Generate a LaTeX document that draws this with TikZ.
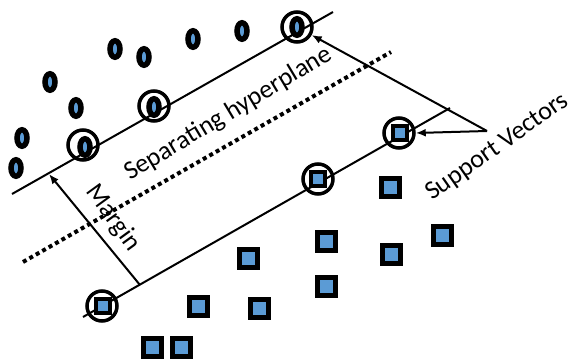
\documentclass[tikz,border=0pt]{standalone}
\usepackage{fontspec}
\setmainfont{Carlito}
\usetikzlibrary{arrows.meta,shapes.geometric}
\definecolor{ptblue}{RGB}{91,155,213}
\tikzset{
  oval/.style={ellipse,draw=black,fill=ptblue,line width=5.5pt,
    minimum width=10pt,minimum height=16.5pt,inner sep=0pt},
  sq/.style={rectangle,draw=black,fill=ptblue,line width=5pt,
    minimum size=18pt,inner sep=0pt},
  sqsmall/.style={rectangle,draw=black,fill=ptblue,line width=3.5pt,
    minimum size=14pt,inner sep=0pt},
  ring/.style={circle,draw=black,line width=3.5pt,minimum size=30pt,inner sep=0pt},
  marginline/.style={line width=2pt},
  hyper/.style={line width=4pt,dash pattern=on 4pt off 3.4pt},
  pointer/.style={line width=2pt,-{Latex[length=10pt,width=8pt]}},
  lbl/.style={font=\fontsize{26}{30}\selectfont,inner sep=0pt}
}
\begin{document}
\begin{tikzpicture}[x=1pt,y=-1pt]
\useasboundingbox (0,0) rectangle (574,362);

% margin boundaries and the separating hyperplane
\coordinate (ua) at (12,194);
\coordinate (ub) at (333,12);
\coordinate (la) at (83,317);
\coordinate (lb) at (450,108);
\coordinate (ha) at (23,262);
\coordinate (hb) at (391,52);
\draw[marginline] (ua) -- (ub);
\draw[marginline] (la) -- (lb);
\draw[hyper] (ha) -- (hb);

% margin arrow
\coordinate (mlow) at (140,285);
\coordinate (mup) at (49,174);
\draw[pointer] (mlow) -- (mup);

% class one: ovals
\node[oval] (c1) at (115,49) {};
\node[oval] (c2) at (144,57) {};
\node[oval] (c3) at (193,39) {};
\node[oval] (c4) at (242,31) {};
\node[oval] (c5) at (50,82) {};
\node[oval] (c6) at (76,108) {};
\node[oval] (c7) at (22,138) {};
\node[oval] (c8) at (16,168) {};
\node[oval] (s1) at (85,147) {};
\node[oval] (s2) at (154,107) {};
\node[oval] (s3) at (297,27) {};

% class two: squares
\node[sq] (q1) at (390,187) {};
\node[sq] (q2) at (326,241) {};
\node[sq] (q3) at (391,254) {};
\node[sq] (q4) at (442,235) {};
\node[sq] (q5) at (326,286) {};
\node[sq] (q6) at (248,258) {};
\node[sq] (q7) at (198,306) {};
\node[sq] (q8) at (259,308) {};
\node[sq] (q9) at (152,347) {};
\node[sq] (q10) at (181,347) {};
\node[sqsmall] (t1) at (400,133) {};
\node[sqsmall] (t2) at (318,179) {};
\node[sqsmall] (t3) at (103,306) {};

% rings around the support vectors
\node[ring] (o1) at (83,145) {};
\node[ring] (o2) at (154,106) {};
\node[ring] (o3) at (297,27) {};
\node[ring] (o4) at (399,133) {};
\node[ring] (o5) at (318,179) {};
\node[ring] (o6) at (102,306) {};

% labels
\node[lbl,anchor=base west,rotate=31] (hyp) at (130,181) {Separating hyperplane};
\node[lbl,anchor=center,rotate=-54] (mar) at (113,218) {Margin};
\node[lbl,anchor=base west,rotate=35] (sv) at (432,201) {Support Vectors};

% pointers from the support vector label
\coordinate (svj) at (487,131);
\draw[pointer] (svj) -- (o3);
\draw[pointer] (svj) -- (o4.east);
\end{tikzpicture}
\end{document}
